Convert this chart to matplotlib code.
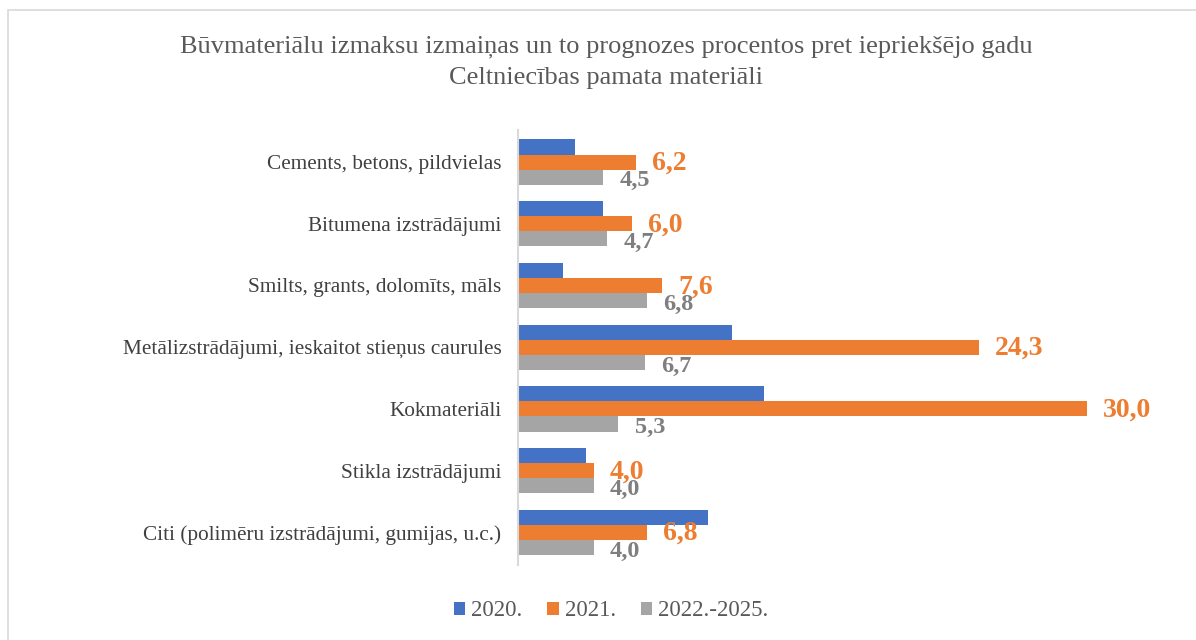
import matplotlib
matplotlib.use("Agg")
import matplotlib.pyplot as plt
from matplotlib.patches import Rectangle
import numpy as np

categories = [
    "Cements, betons, pildvielas",
    "Bitumena izstrādājumi",
    "Smilts, grants, dolomīts, māls",
    "Metālizstrādājumi, ieskaitot stieņus caurules",
    "Kokmateriāli",
    "Stikla izstrādājumi",
    "Citi (polimēru izstrādājumi, gumijas, u.c.)",
]
v2020 = [3.0, 4.5, 2.4, 11.3, 13.0, 3.6, 10.0]
v2021 = [6.2, 6.0, 7.6, 24.3, 30.0, 4.0, 6.8]
v2022_25 = [4.5, 4.7, 6.8, 6.7, 5.3, 4.0, 4.0]
series_names = ["2020.", "2021.", "2022.-2025."]
title_lines = ["Būvmateriālu izmaksu izmaiņas un to prognozes procentos pret iepriekšējo gadu",
               "Celtniecības pamata materiāli"]

plt.rcParams['font.family'] = ['Liberation Serif', 'DejaVu Serif']

fig = plt.figure(figsize=(11.96, 6.4), dpi=100)
# chart border
fig.patches.append(Rectangle((8/1196, -0.01), 1.0, (640-10)/640 + 0.01, transform=fig.transFigure,
                             fill=False, edgecolor="#D9D9D9", linewidth=1.2))

ax = fig.add_axes([518/1196, 75/640, 635/1196, 435/640])
y = np.arange(len(categories))
h = 0.245
c_blue, c_orange, c_gray = "#4472C4", "#ED7D31", "#A5A5A5"
ax.barh(y - h, v2020, height=h, color=c_blue, label=series_names[0])
ax.barh(y, v2021, height=h, color=c_orange, label=series_names[1])
ax.barh(y + h, v2022_25, height=h, color=c_gray, label=series_names[2])

ax.set_xlim(0, 33.5)
ax.set_ylim(6.53, -0.52)
ax.set_yticks(y)
ax.set_yticklabels(categories, fontsize=15.3, color="#404040")
ax.tick_params(axis='y', length=0, pad=12)
ax.set_xticks([])
for s in ["top", "right", "bottom"]:
    ax.spines[s].set_visible(False)
ax.spines["left"].set_color("#D9D9D9")
ax.spines["left"].set_linewidth(1.5)

def fmt(v):
    return f"{v:.1f}".replace(".", ",")

off = 0.85
for i in range(len(categories)):
    ax.text(v2021[i] + off, y[i] + 0.02, fmt(v2021[i]), color=c_orange, fontsize=20,
            fontweight="bold", va="center", ha="left")
    ax.text(v2022_25[i] + off, y[i] + h + 0.06, fmt(v2022_25[i]), color="#7F7F7F", fontsize=17.5,
            fontweight="bold", va="center", ha="left")

fig.text(606/1196, 1 - 47/640, title_lines[0], ha="center", va="center", fontsize=19, color="#595959")
fig.text(606/1196, 1 - 78/640, title_lines[1], ha="center", va="center", fontsize=19, color="#595959")

leg = fig.legend(loc="center", bbox_to_anchor=(611/1196, 1 - 611/640), ncol=3, frameon=False,
                 fontsize=16.5, handlelength=0.5, handleheight=0.5, handletextpad=0.25,
                 columnspacing=1.1)
for t in leg.get_texts():
    t.set_color("#595959")

fig.savefig("out.png", dpi=100)
